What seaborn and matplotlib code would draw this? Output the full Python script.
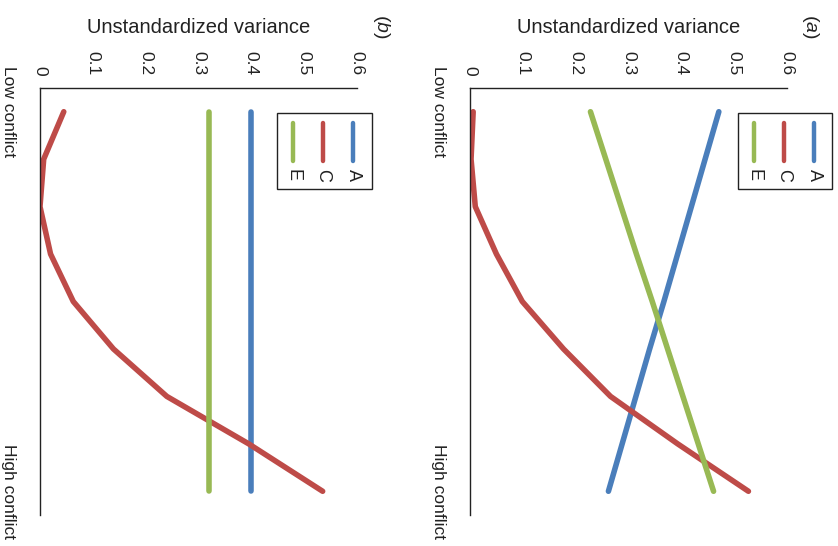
import numpy as np
import pandas as pd
import matplotlib
matplotlib.use("Agg")
import matplotlib.pyplot as plt
from matplotlib.patches import Rectangle
from matplotlib.lines import Line2D
import seaborn as sns

# ---- data ----
conflict_levels = list(range(9))  # Low conflict -> High conflict
conflict_labels = ["Low conflict", "", "", "", "", "", "", "", "High conflict"]
components = ["A", "C", "E"]

a_A = [0.471, 0.445, 0.419, 0.393, 0.367, 0.340, 0.314, 0.288, 0.262]
a_C = [0.006, 0.002, 0.010, 0.050, 0.099, 0.177, 0.266, 0.393, 0.527]
a_E = [0.228, 0.257, 0.286, 0.315, 0.345, 0.374, 0.403, 0.432, 0.461]

b_A = [0.40, 0.40, 0.40, 0.40, 0.40, 0.40, 0.40, 0.40, 0.40]
b_C = [0.045, 0.007, 0.000, 0.020, 0.063, 0.139, 0.240, 0.395, 0.535]
b_E = [0.32, 0.32, 0.32, 0.32, 0.32, 0.32, 0.32, 0.32, 0.32]

x_ticks = [0, 0.1, 0.2, 0.3, 0.4, 0.5, 0.6]
x_tick_labels = ["0", "0.1", "0.2", "0.3", "0.4", "0.5", "0.6"]
value_label = "Unstandardized variance"

colors = {"A": "#4a7ebb", "C": "#be4b48", "E": "#98b954"}

sns.set_theme(style="white")
plt.rcParams["font.family"] = ["Liberation Sans", "DejaVu Sans"]
plt.rcParams["mathtext.fontset"] = "custom"
plt.rcParams["mathtext.it"] = "Liberation Sans:italic"
plt.rcParams["mathtext.rm"] = "Liberation Sans"

W, H = 838, 546
fig = plt.figure(figsize=(W / 100, H / 100), dpi=100)


def px_rect(l, t, r, b):
    return [l / W, 1 - b / H, (r - l) / W, (b - t) / H]


def make_df(A, C, E):
    rows = []
    for comp, vals in zip(components, [A, C, E]):
        for lvl, v in zip(conflict_levels, vals):
            rows.append({"level": lvl, "variance": v, "component": comp})
    return pd.DataFrame(rows)


def draw_panel(rect_px, A, C, E, tag, tag_x, legend_px):
    ax = fig.add_axes(px_rect(*rect_px))
    df = make_df(A, C, E)
    sns.lineplot(data=df, x="variance", y="level", hue="component",
                 hue_order=components, palette=colors, orient="y",
                 legend=False, lw=4.0, ax=ax, solid_capstyle="round")
    ax.set_xlim(0, 0.6)
    ax.set_ylim(8.5, -0.5)
    for s in ["right", "bottom"]:
        ax.spines[s].set_visible(False)
    for s in ["top", "left"]:
        ax.spines[s].set_color("#222222")
        ax.spines[s].set_linewidth(1.0)
    ax.xaxis.tick_top()
    ax.xaxis.set_label_position("top")
    ax.set_xticks(x_ticks)
    ax.set_xticklabels(x_tick_labels, rotation=-90, fontsize=12.5, color="#222222")
    ax.tick_params(axis="x", length=0, pad=9)
    ax.set_xlabel(value_label, fontsize=14.5, color="#222222", labelpad=13)
    ax.set_yticks(conflict_levels)
    ax.set_yticklabels(conflict_labels, rotation=-90, va="center",
                       fontsize=12.5, color="#222222")
    ax.tick_params(axis="y", length=0, pad=17)
    ax.set_ylabel("")
    ax.grid(False)

    # panel tag
    fig.text(tag_x / W, 1 - 26 / H, tag, rotation=-90, ha="center", va="center",
             fontsize=14, color="#222222")

    # custom rotated legend
    l, t, r, b = legend_px
    fig.add_artist(Rectangle((l / W, 1 - b / H), (r - l) / W, (b - t) / H,
                             transform=fig.transFigure, fill=False,
                             edgecolor="#222222", lw=1.0))
    xs = {"E": l + 16, "C": l + 46, "A": l + 76}
    for comp in components:
        x = xs[comp]
        fig.add_artist(Line2D([x / W, x / W], [1 - 123 / H, 1 - 161 / H],
                              transform=fig.transFigure, color=colors[comp],
                              lw=3.2, solid_capstyle="round"))
        fig.text(x / W, 1 - 175 / H, comp, rotation=-90, ha="center",
                 va="center", fontsize=13, color="#222222")
    return ax


draw_panel((470, 88, 787, 515), a_A, a_C, a_E, r"($\mathit{a}$)", 810, (738, 113, 832, 189))
draw_panel((40, 88, 357, 515), b_A, b_C, b_E, r"($\mathit{b}$)", 381, (277, 113, 372, 189))

fig.savefig("out.png", dpi=100, facecolor="white")
